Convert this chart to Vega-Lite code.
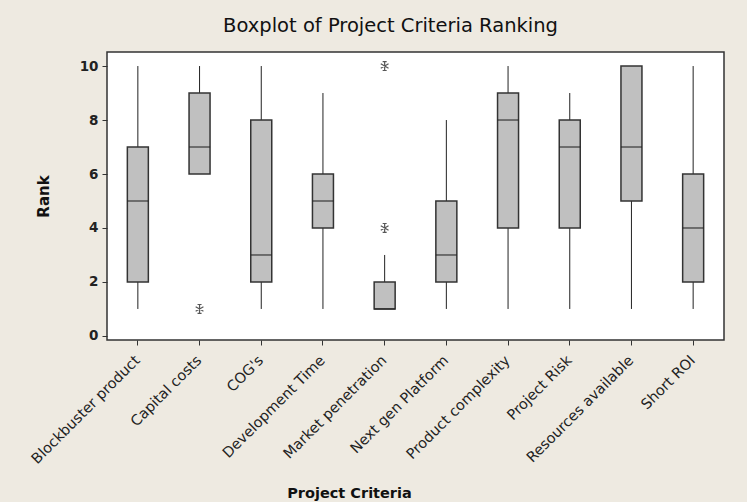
{
  "$schema": "https://vega.github.io/schema/vega-lite/v6.json",
  "autosize": {"type": "none"},
  "width": 617,
  "height": 288,
  "padding": {"left": 107, "top": 52, "right": 23, "bottom": 162},
  "background": "#EEEAE1",
  "config": {
    "view": {"fill": "white", "stroke": "#333333", "strokeWidth": 1.5},
    "font": "DejaVu Sans"
  },
  "title": {
    "text": "Boxplot of Project Criteria Ranking",
    "font": "DejaVu Sans",
    "fontSize": 19.5,
    "fontWeight": "normal",
    "color": "#111111",
    "anchor": "middle",
    "dx": -25,
    "offset": 16
  },
  "datasets": {
    "boxes": [
      {"criteria": "Blockbuster product", "lo": 1, "q1": 2, "med": 5, "q3": 7, "hi": 10},
      {"criteria": "Capital costs", "lo": 6, "q1": 6, "med": 7, "q3": 9, "hi": 10},
      {"criteria": "COG's", "lo": 1, "q1": 2, "med": 3, "q3": 8, "hi": 10},
      {"criteria": "Development Time", "lo": 1, "q1": 4, "med": 5, "q3": 6, "hi": 9},
      {"criteria": "Market penetration", "lo": 1, "q1": 1, "med": 1, "q3": 2, "hi": 3},
      {"criteria": "Next gen Platform", "lo": 1, "q1": 2, "med": 3, "q3": 5, "hi": 8},
      {"criteria": "Product complexity", "lo": 1, "q1": 4, "med": 8, "q3": 9, "hi": 10},
      {"criteria": "Project Risk", "lo": 1, "q1": 4, "med": 7, "q3": 8, "hi": 9},
      {"criteria": "Resources available", "lo": 1, "q1": 5, "med": 7, "q3": 10, "hi": 10},
      {"criteria": "Short ROI", "lo": 1, "q1": 2, "med": 4, "q3": 6, "hi": 10}
    ],
    "outliers": [
      {"criteria": "Capital costs", "rank": 1},
      {"criteria": "Market penetration", "rank": 4},
      {"criteria": "Market penetration", "rank": 10}
    ]
  },
  "encoding": {
    "x": {
      "field": "criteria",
      "type": "nominal",
      "sort": null,
      "scale": {"type": "band", "paddingInner": 0, "paddingOuter": 0,
        "domain": ["Blockbuster product", "Capital costs", "COG's", "Development Time", "Market penetration", "Next gen Platform", "Product complexity", "Project Risk", "Resources available", "Short ROI"]},
      "axis": {
        "title": "Project Criteria",
        "titleFont": "DejaVu Sans",
        "titleFontSize": 14.5,
        "titleFontWeight": "bold",
        "titleColor": "#111111",
        "titleX": 242,
        "titleY": 157,
        "titleAlign": "center",
        "titleBaseline": "alphabetic",
        "labelAngle": -45,
        "labelAlign": "right",
        "labelBaseline": "middle",
        "labelFontSize": 14.5,
        "labelColor": "#222222",
        "labelPadding": 13,
        "labelLimit": 300,
        "labelOverlap": false,
        "tickColor": "#333333",
        "tickSize": 5,
        "domain": false,
        "grid": false
      }
    }
  },
  "layer": [
    {
      "data": {"name": "boxes"},
      "mark": {"type": "rule", "color": "#222222", "strokeWidth": 1},
      "encoding": {
        "y": {"field": "lo", "type": "quantitative",
          "scale": {"domain": [-0.15, 10.52], "nice": false, "zero": false},
          "axis": {
            "title": "Rank",
            "titleFont": "DejaVu Sans",
            "titleFontSize": 15,
            "titleFontWeight": "bold",
            "titleColor": "#111111",
            "titlePadding": 28,
            "values": [0, 2, 4, 6, 8, 10],
            "labelFontSize": 13.5,
            "labelFontWeight": "bold",
            "labelColor": "#222222",
            "labelPadding": 4,
            "tickColor": "#333333",
            "tickSize": 5,
            "domain": false,
            "grid": false
          }
        },
        "y2": {"field": "hi"}
      }
    },
    {
      "data": {"name": "boxes"},
      "mark": {"type": "bar", "fill": "#C0C0C0", "stroke": "#333333", "strokeWidth": 1.5, "size": 21},
      "encoding": {
        "y": {"field": "q1", "type": "quantitative"},
        "y2": {"field": "q3"}
      }
    },
    {
      "data": {"name": "boxes"},
      "mark": {"type": "tick", "color": "#222222", "thickness": 1.5, "size": 21, "orient": "horizontal"},
      "encoding": {
        "y": {"field": "med", "type": "quantitative"}
      }
    },
    {
      "data": {"name": "outliers"},
      "mark": {"type": "point", "shape": "M0,-1L0,1M-0.87,-0.5L0.87,0.5M-0.87,0.5L0.87,-0.5M-0.45,-1L0.45,-1M-0.45,1L0.45,1", "stroke": "#111111", "strokeWidth": 1.2, "filled": false, "size": 80},
      "encoding": {
        "y": {"field": "rank", "type": "quantitative"}
      }
    }
  ]
}
